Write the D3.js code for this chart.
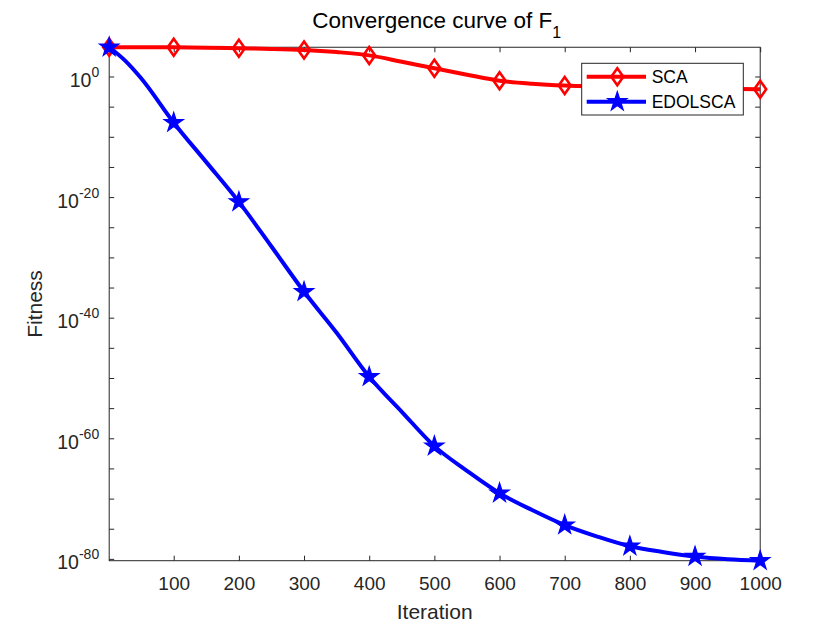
<!DOCTYPE html>
<html>
<head>
<meta charset="utf-8">
<script src="https://cdn.jsdelivr.net/npm/d3@7/dist/d3.min.js"></script>
<style>
  html, body { margin: 0; padding: 0; background: #fff; }
  svg { display: block; font-family: "Liberation Sans", Arial, Helvetica, sans-serif; }
</style>
</head>
<body>
<svg id="chart" width="840" height="630"></svg>
<script>
// ---- data ----
const iterations = [1, 25, 50, 100, 150, 200, 250, 300, 350, 400, 450, 500, 550, 600, 650, 700, 750, 800, 850, 900, 950, 1000];
const scaValues = [7.08e4, 7.08e4, 7.08e4, 6.92e4, 6.03e4, 4.79e4, 3.80e4, 2.51e4, 1.12e4, 3.16e3, 2.82e2, 2.29e1, 2.0, 2.0e-1, 6.3e-2, 3.16e-2, 2.24e-2, 1.78e-2, 1.41e-2, 1.12e-2, 8.9e-3, 7.6e-3];
const edolscaValues = [7.08e4, 4.7e2, 5.0e-1, 2.2e-8, 6.3e-15, 1.6e-21, 6.3e-29, 2.0e-36, 3.2e-43, 1.6e-50, 2.5e-56, 5.0e-62, 4.0e-66, 7.9e-70, 1.26e-72, 4.0e-75, 5.0e-77, 1.26e-78, 1.4e-79, 2.5e-80, 8.9e-81, 5.0e-81];
const markerIterations = [1, 100, 200, 300, 400, 500, 600, 700, 800, 900, 1000];
const xTickValues = [100, 200, 300, 400, 500, 600, 700, 800, 900, 1000];
const yTickExponents = [-80, -75, -70, -65, -60, -55, -50, -45, -40, -35, -30, -25, -20, -15, -10, -5, 0];
const yLabelExponents = [-80, -60, -40, -20, 0];
const seriesNames = ["SCA", "EDOLSCA"];
const seriesColors = ["#ff0000", "#0000ff"];
const titleText = "Convergence curve of F";
const titleSub = "1";
const xLabel = "Iteration";
const yLabel = "Fitness";

// ---- layout ----
const W = 840, H = 630;
const plot = { left: 109.2, top: 47.25, right: 760.2, bottom: 560.7 };
const axisColor = "#262626";

const svg = d3.select("#chart");

const allVals = scaValues.concat(edolscaValues);
const x = d3.scaleLinear().domain([1, 1000]).range([plot.left, plot.right]);
const y = d3.scaleLog().domain([d3.min(allVals), d3.max(allVals)]).range([plot.bottom, plot.top]);

// ---- axes box ----
const gAxes = svg.append("g");
gAxes.append("rect")
  .attr("x", plot.left).attr("y", plot.top)
  .attr("width", plot.right - plot.left).attr("height", plot.bottom - plot.top)
  .attr("fill", "none").attr("stroke", axisColor).attr("stroke-width", 1);

const tickLen = 5;
const xAxisB = d3.axisBottom(x).tickValues(xTickValues).tickSize(-tickLen).tickPadding(16).tickFormat(d3.format("d"));
const gxb = gAxes.append("g").attr("transform", `translate(0,${plot.bottom})`).call(xAxisB);
gxb.select(".domain").remove();
gxb.selectAll("line").attr("stroke", axisColor);
gxb.selectAll("text").attr("fill", axisColor).attr("font-size", 19).attr("font-family", "Liberation Sans, Arial, sans-serif")
  .attr("dy", null).attr("y", 29.3);

const xAxisT = d3.axisTop(x).tickValues(xTickValues).tickSize(-tickLen).tickFormat("");
const gxt = gAxes.append("g").attr("transform", `translate(0,${plot.top})`).call(xAxisT);
gxt.select(".domain").remove();
gxt.selectAll("line").attr("stroke", axisColor);

const yTickVals = yTickExponents.map(e => Math.pow(10, e));
const yAxisL = d3.axisLeft(y).tickValues(yTickVals).tickSize(-tickLen).tickFormat("");
const gyl = gAxes.append("g").attr("transform", `translate(${plot.left},0)`).call(yAxisL);
gyl.select(".domain").remove();
gyl.selectAll("line").attr("stroke", axisColor);

const yAxisR = d3.axisRight(y).tickValues(yTickVals).tickSize(-tickLen).tickFormat("");
const gyr = gAxes.append("g").attr("transform", `translate(${plot.right},0)`).call(yAxisR);
gyr.select(".domain").remove();
gyr.selectAll("line").attr("stroke", axisColor);

const gyLab = gAxes.append("g");
yLabelExponents.forEach(e => {
  const yy = y(Math.pow(10, e));
  const t = gyLab.append("text")
    .attr("x", plot.left - 10).attr("y", yy + 10.6)
    .attr("text-anchor", "end").attr("fill", axisColor)
    .attr("font-size", 19.5);
  t.append("tspan").text("10");
  t.append("tspan").attr("font-size", 14).attr("dy", -10).text(String(e));
});

// ---- series ----
const line = d3.line().curve(d3.curveMonotoneX);
const seriesData = [scaValues, edolscaValues];
const gSeries = svg.append("g");

function diamondPath(cx, cy) {
  const hw = 6, hh = 8.5;
  return `M${cx},${cy - hh}L${cx + hw},${cy}L${cx},${cy + hh}L${cx - hw},${cy}Z`;
}
const starSym = d3.symbol().type(d3.symbolStar).size(115);

seriesData.forEach((vals, i) => {
  const pts = iterations.map((it, k) => [x(it), y(vals[k])]);
  gSeries.append("path")
    .attr("d", line(pts))
    .attr("fill", "none")
    .attr("stroke", seriesColors[i])
    .attr("stroke-width", 4)
    .attr("stroke-linejoin", "round");
  markerIterations.forEach(it => {
    const k = iterations.indexOf(it);
    const cx = x(it), cy = y(vals[k]);
    if (i === 0) {
      gSeries.append("path").attr("d", diamondPath(cx, cy))
        .attr("fill", "none").attr("stroke", seriesColors[i]).attr("stroke-width", 2.6);
    } else {
      gSeries.append("path").attr("d", starSym())
        .attr("transform", `translate(${cx},${cy})`)
        .attr("fill", seriesColors[i]).attr("stroke", seriesColors[i]).attr("stroke-width", 1.2);
    }
  });
});

// ---- title & labels ----
const cx = (plot.left + plot.right) / 2;
const title = svg.append("text")
  .attr("x", cx + 2).attr("y", 28.3).attr("text-anchor", "middle")
  .attr("fill", "#000").attr("font-size", 22.5);
title.append("tspan").text(titleText);
title.append("tspan").attr("font-size", 16).attr("dy", 10).text(titleSub);

svg.append("text")
  .attr("x", cx).attr("y", 619).attr("text-anchor", "middle")
  .attr("fill", axisColor).attr("font-size", 21).text(xLabel);

svg.append("text")
  .attr("transform", `translate(42,${(plot.top + plot.bottom) / 2}) rotate(-90)`)
  .attr("text-anchor", "middle")
  .attr("fill", axisColor).attr("font-size", 21).text(yLabel);

// ---- legend ----
const lg = svg.append("g");
const lgBox = { x: 581.7, y: 63.3, w: 161.6, h: 51.7 };
lg.append("rect").attr("x", lgBox.x).attr("y", lgBox.y).attr("width", lgBox.w).attr("height", lgBox.h)
  .attr("fill", "#fff").attr("stroke", axisColor).attr("stroke-width", 1);
const rowY = [76.7, 101.7];
seriesNames.forEach((name, i) => {
  const ry = rowY[i];
  lg.append("line").attr("x1", 586.7).attr("x2", 646).attr("y1", ry).attr("y2", ry)
    .attr("stroke", seriesColors[i]).attr("stroke-width", 4);
  if (i === 0) {
    lg.append("path").attr("d", diamondPath(617.3, ry))
      .attr("fill", "none").attr("stroke", seriesColors[i]).attr("stroke-width", 2.6);
  } else {
    lg.append("path").attr("d", starSym()).attr("transform", `translate(617.3,${ry})`)
      .attr("fill", seriesColors[i]).attr("stroke", seriesColors[i]).attr("stroke-width", 1.2);
  }
  lg.append("text").attr("x", 651.7).attr("y", ry + 6.3)
    .attr("fill", "#000").attr("font-size", 17.5).text(name);
});
</script>
</body>
</html>
